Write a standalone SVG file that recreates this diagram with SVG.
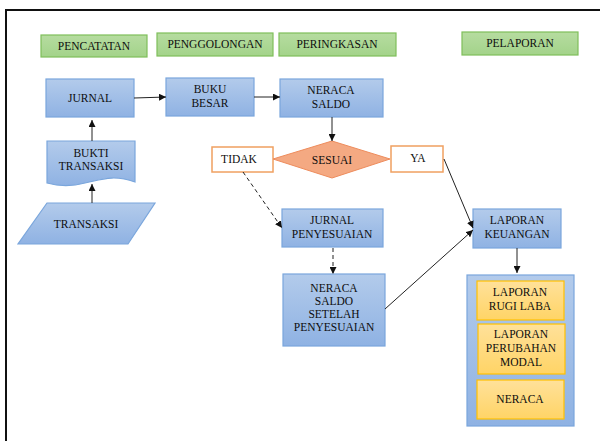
<svg xmlns="http://www.w3.org/2000/svg" width="600" height="441" viewBox="0 0 600 441">
<style>
text{font-size:11.5px;fill:#0d0d0d;text-anchor:middle}
.g{fill:url(#gg);stroke:#7fbf5a;stroke-width:1.2}
.b{fill:url(#bg);stroke:#7aa6dc;stroke-width:1.2}
.y{fill:url(#yg);stroke:#ffc000;stroke-width:1.2}
.o{fill:#fff;stroke:#f0a060;stroke-width:1.5}
.c{stroke:#222;stroke-width:1;fill:none}
.d{stroke:#222;stroke-width:1;fill:none;stroke-dasharray:4,3}
</style>
<defs>
<linearGradient id="gg" x1="0" y1="0" x2="0" y2="1"><stop offset="0" stop-color="#b6dca0"/><stop offset="1" stop-color="#a3d38a"/></linearGradient>
<linearGradient id="bg" x1="0" y1="0" x2="0" y2="1"><stop offset="0" stop-color="#b3cbeb"/><stop offset="1" stop-color="#8fb2e3"/></linearGradient>
<linearGradient id="yg" x1="0" y1="0" x2="0" y2="1"><stop offset="0" stop-color="#ffe19a"/><stop offset="1" stop-color="#ffd466"/></linearGradient>
<marker id="a" viewBox="0 0 10 10" refX="10" refY="5" markerWidth="7" markerHeight="7" orient="auto" markerUnits="userSpaceOnUse"><path d="M0,0L10,5L0,10z" fill="#111"/></marker>
</defs>
<rect width="600" height="441" fill="#fff"/>
<path d="M6,441V10H600" fill="none" stroke="#111" stroke-width="2"/>
<g id="pencatatan"><rect class="g" x="41" y="35" width="106" height="22"/><text font-family="'Liberation Serif', serif" x="94" y="50">PENCATATAN</text></g>
<g id="penggolongan"><rect class="g" x="157" y="33" width="116" height="23"/><text font-family="'Liberation Serif', serif" x="215" y="48">PENGGOLONGAN</text></g>
<g id="peringkasan"><rect class="g" x="279" y="33" width="117" height="23"/><text font-family="'Liberation Serif', serif" x="337" y="48">PERINGKASAN</text></g>
<g id="pelaporan"><rect class="g" x="462" y="32" width="116" height="23"/><text font-family="'Liberation Serif', serif" x="520" y="47">PELAPORAN</text></g>

<g id="jurnal"><rect class="b" x="46" y="79" width="88" height="38"/><text font-family="'Liberation Serif', serif" x="90" y="102">JURNAL</text></g>
<g id="buku-besar"><rect class="b" x="166" y="78" width="88" height="38"/><text font-family="'Liberation Serif', serif" x="210" y="93">BUKU</text><text font-family="'Liberation Serif', serif" x="210" y="107">BESAR</text></g>
<g id="neraca-saldo"><rect class="b" x="280" y="79" width="103" height="38"/><text font-family="'Liberation Serif', serif" x="331" y="94">NERACA</text><text font-family="'Liberation Serif', serif" x="331" y="108">SALDO</text></g>
<g id="bukti-transaksi"><path class="b" d="M47,141H135V182C113,174 100,180 85,183C70,187 58,186 47,183Z"/><text font-family="'Liberation Serif', serif" x="91" y="157">BUKTI</text><text font-family="'Liberation Serif', serif" x="91" y="170">TRANSAKSI</text></g>
<g id="transaksi"><path class="b" d="M47,203H155L128,244H18Z"/><text font-family="'Liberation Serif', serif" x="86" y="228">TRANSAKSI</text></g>
<g id="tidak"><rect class="o" x="212" y="147" width="61" height="25"/><text font-family="'Liberation Serif', serif" x="239" y="163">TIDAK</text></g>
<g id="sesuai"><path d="M273,159L332,141L390,159L332,178Z" fill="#f4a982" stroke="#ee8c5c" stroke-width="1"/><text font-family="'Liberation Serif', serif" x="332" y="164">SESUAI</text></g>
<g id="ya"><rect class="o" x="391" y="146" width="52" height="26"/><text font-family="'Liberation Serif', serif" x="418" y="162">YA</text></g>
<g id="jurnal-penyesuaian"><rect class="b" x="282" y="209" width="101" height="38"/><text font-family="'Liberation Serif', serif" x="332" y="224">JURNAL</text><text font-family="'Liberation Serif', serif" x="332" y="238">PENYESUAIAN</text></g>
<g id="neraca-saldo-setelah"><rect class="b" x="283" y="274" width="102" height="72"/><text font-family="'Liberation Serif', serif" x="334" y="292">NERACA</text><text font-family="'Liberation Serif', serif" x="334" y="305">SALDO</text><text font-family="'Liberation Serif', serif" x="334" y="318">SETELAH</text><text font-family="'Liberation Serif', serif" x="334" y="331">PENYESUAIAN</text></g>
<g id="laporan-keuangan"><rect class="b" x="473" y="209" width="88" height="39"/><text font-family="'Liberation Serif', serif" x="517" y="224">LAPORAN</text><text font-family="'Liberation Serif', serif" x="517" y="238">KEUANGAN</text></g>
<g id="laporan-group"><rect class="b" x="467" y="275" width="107" height="151"/>
<rect class="y" x="477" y="281" width="87" height="39"/><text font-family="'Liberation Serif', serif" x="520" y="296">LAPORAN</text><text font-family="'Liberation Serif', serif" x="520" y="310">RUGI LABA</text>
<rect class="y" x="478" y="324" width="87" height="50"/><text font-family="'Liberation Serif', serif" x="521" y="338">LAPORAN</text><text font-family="'Liberation Serif', serif" x="521" y="352">PERUBAHAN</text><text font-family="'Liberation Serif', serif" x="521" y="366">MODAL</text>
<rect class="y" x="477" y="380" width="87" height="39"/><text font-family="'Liberation Serif', serif" x="520" y="403">NERACA</text>
</g>
<g id="connectors">
<path class="c" d="M134,98L166,97" marker-end="url(#a)"/>
<path class="c" d="M254,97L280,97" marker-end="url(#a)"/>
<path class="c" d="M92,141V120" marker-end="url(#a)"/>
<path class="c" d="M92,203V184" marker-end="url(#a)"/>
<path class="c" d="M332,117V141" marker-end="url(#a)"/>
<path class="d" d="M243,172L282,228" marker-end="url(#a)"/>
<path class="d" d="M333,248V274" marker-end="url(#a)"/>
<path class="c" d="M444,159L473,228" marker-end="url(#a)"/>
<path class="c" d="M385,309L473,230" marker-end="url(#a)"/>
<path class="c" d="M517,248V273" marker-end="url(#a)"/>
</g>
</svg>
